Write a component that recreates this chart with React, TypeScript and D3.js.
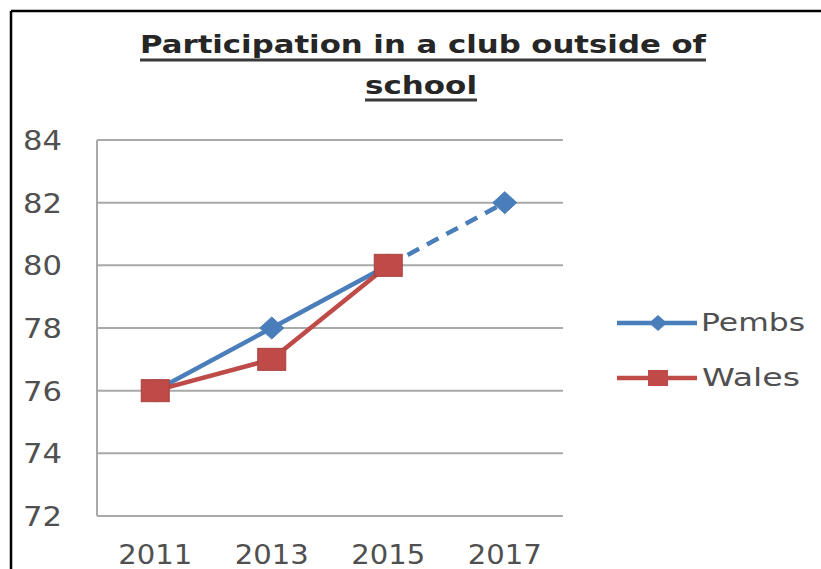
import React from "react";
import * as d3 from "d3";

const years = ["2011", "2013", "2015", "2017"];
const pembs = [76, 78, 80, 82];
const wales: (number | null)[] = [76, 77, 80, null];
const yTicks = [72, 74, 76, 78, 80, 82, 84];
const titleLines = ["Participation in a club outside of", "school"];
const seriesNames = ["Pembs", "Wales"];

const BLUE = "#4A7EBB";
const RED = "#BE4B48";
const GRID = "#A9A9A9";
const LABEL = "#505050";

export default function App() {
  const W = 821, H = 569;
  const x = d3.scaleBand<string>().domain(years).range([97, 563]);
  const cx = (d: string) => (x(d) as number) + x.bandwidth() / 2;
  const y = d3.scaleLinear().domain([72, 84]).range([516, 140]);

  const line = d3.line<[string, number]>().x(d => cx(d[0])).y(d => y(d[1]));
  const pembsSolid: [string, number][] = years.slice(0, 3).map((yr, i) => [yr, pembs[i]]);
  const pembsDash: [string, number][] = years.slice(2, 4).map((yr, i) => [yr, pembs[i + 2]]);
  const walesPts: [string, number][] = years
    .map((yr, i) => [yr, wales[i]] as [string, number | null])
    .filter(d => d[1] !== null) as [string, number][];

  const diamond = (px: number, py: number, hw: number, hh: number) =>
    `M${px},${py - hh}L${px + hw},${py}L${px},${py + hh}L${px - hw},${py}Z`;

  const font = "'DejaVu Sans', Verdana, sans-serif";

  return (
    <svg width={W} height={H} style={{ position: "absolute", left: 0, top: 0, background: "#fff" }}>
      <rect x={0} y={0} width={W} height={H} fill="#fff" />
      {/* frame */}
      <line x1={11} y1={11} x2={W} y2={11} stroke="#000" strokeWidth={2.5} />
      <line x1={11} y1={11} x2={11} y2={H} stroke="#000" strokeWidth={2.5} />

      {/* title */}
      <text x={423} y={53} textAnchor="middle" fontFamily={font} fontWeight="bold" fontSize={25}
        fill="#262626" textLength={566} lengthAdjust="spacingAndGlyphs">{titleLines[0]}</text>
      <line x1={140} x2={706} y1={60} y2={60} stroke="#3a3a3a" strokeWidth={3} />
      <text x={421} y={94} textAnchor="middle" fontFamily={font} fontWeight="bold" fontSize={25}
        fill="#262626" textLength={112} lengthAdjust="spacingAndGlyphs">{titleLines[1]}</text>
      <line x1={365} x2={477} y1={100} y2={100} stroke="#3a3a3a" strokeWidth={3} />

      {/* gridlines */}
      {yTicks.map(t => (
        <line key={t} x1={97} x2={563} y1={y(t)} y2={y(t)} stroke={GRID} strokeWidth={2} />
      ))}
      <line x1={97} x2={97} y1={y(84)} y2={y(72)} stroke={GRID} strokeWidth={2} />

      {/* y labels */}
      {yTicks.map(t => (
        <text key={t} x={62} y={y(t) + 10} textAnchor="end" fontFamily={font} fontSize={27}
          fill={LABEL} textLength={39} lengthAdjust="spacingAndGlyphs">{t}</text>
      ))}
      {/* x labels */}
      {years.map(yr => (
        <text key={yr} x={cx(yr)} y={564} textAnchor="middle" fontFamily={font} fontSize={26}
          fill={LABEL} textLength={74} lengthAdjust="spacingAndGlyphs">{yr}</text>
      ))}

      {/* Pembs */}
      <path d={line(pembsSolid) as string} fill="none" stroke={BLUE} strokeWidth={4.5} strokeLinejoin="round" />
      <path d={line(pembsDash) as string} fill="none" stroke={BLUE} strokeWidth={4.5} strokeDasharray="13,9" />
      {years.map((yr, i) => (
        <path key={yr} d={diamond(cx(yr), y(pembs[i]), 12, 11)} fill={BLUE} stroke={BLUE} strokeWidth={1} />
      ))}

      {/* Wales */}
      <path d={line(walesPts) as string} fill="none" stroke={RED} strokeWidth={4.5} strokeLinejoin="round" />
      {walesPts.map(d => (
        <rect key={d[0]} x={cx(d[0]) - 14} y={y(d[1]) - 11} width={28} height={22} fill={RED} stroke="#A8403D" strokeWidth={1} />
      ))}

      {/* legend */}
      <line x1={617} x2={697} y1={323} y2={323} stroke={BLUE} strokeWidth={4.5} />
      <path d={diamond(658, 323, 9, 8)} fill={BLUE} />
      <text x={701} y={331} fontFamily={font} fontSize={24} fill={LABEL} textLength={104} lengthAdjust="spacingAndGlyphs">{seriesNames[0]}</text>
      <line x1={617} x2={697} y1={378} y2={378} stroke={RED} strokeWidth={4.5} />
      <rect x={648} y={370} width={20} height={16} fill={RED} />
      <text x={702} y={386} fontFamily={font} fontSize={24} fill={LABEL} textLength={98} lengthAdjust="spacingAndGlyphs">{seriesNames[1]}</text>
    </svg>
  );
}
